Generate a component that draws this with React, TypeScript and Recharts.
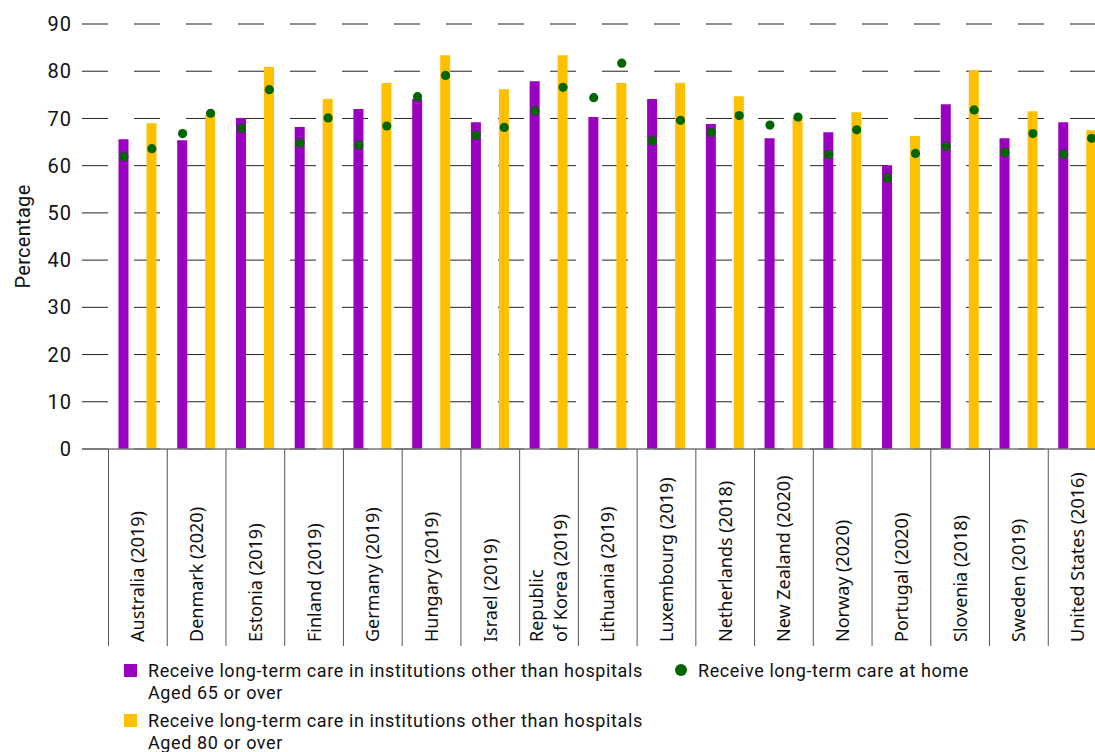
import React from 'react';
import {
  ComposedChart,
  Bar,
  Scatter,
  XAxis,
  YAxis,
  CartesianGrid,
} from 'recharts';

// categories (newline = second line of the label)
const countries = [
  'Australia (2019)',
  'Denmark (2020)',
  'Estonia (2019)',
  'Finland (2019)',
  'Germany (2019)',
  'Hungary (2019)',
  'Israel (2019)',
  'Republic\nof Korea (2019)',
  'Lithuania (2019)',
  'Luxembourg (2019)',
  'Netherlands (2018)',
  'New Zealand (2020)',
  'Norway (2020)',
  'Portugal (2020)',
  'Slovenia (2018)',
  'Sweden (2019)',
  'United States (2016)',
];

// institutions other than hospitals
const inst65 = [65.6, 65.4, 70.1, 68.2, 72.0, 74.1, 69.2, 77.9, 70.3, 74.1, 68.8, 65.8, 67.1, 60.1, 73.0, 65.8, 69.2];
const inst80 = [69.0, 70.8, 80.9, 74.1, 77.5, 83.4, 76.2, 83.4, 77.5, 77.5, 74.7, 70.2, 71.3, 66.3, 80.2, 71.5, 67.5];

// at home
const home65 = [61.9, 66.8, 67.9, 64.8, 64.4, 74.6, 66.4, 71.6, 74.4, 65.3, 67.0, 68.6, 62.4, 57.4, 64.1, 62.8, 62.4];
const home80 = [63.6, 71.1, 76.1, 70.1, 68.4, 79.1, 68.1, 76.6, 81.7, 69.6, 70.6, 70.3, 67.6, 62.6, 71.8, 66.8, 65.8];

const yTicks = [0, 10, 20, 30, 40, 50, 60, 70, 80, 90];

const PURPLE = '#9900bf';
const YELLOW = '#ffc000';
const GREEN = '#006600';
const SANS = 'Roboto, "Noto Sans", sans-serif';

const BAR_SIZE = 10;
const BAR_GAP = 18;
const DOT_SHIFT = (BAR_SIZE + BAR_GAP) / 2;

const data = countries.map((c, i) => ({
  country: c,
  inst65: inst65[i],
  inst80: inst80[i],
  home65: home65[i],
  home80: home80[i],
}));

// label rotated + separator line on the left edge of each band
const CountryTick = (props: any) => {
  const { x, y, payload } = props;
  const half = payload && payload.offset ? payload.offset : 29.4;
  const lines = String(payload.value).split('\n');
  const lh = 24;
  const start = -((lines.length - 1) * lh) / 2;
  return (
    <g>
      <line x1={x - half} x2={x - half} y1={y} y2={y + 197} stroke="#555" strokeWidth={1} />
      <g transform={`translate(${x},${y + 193})`}>
        <text
          transform="rotate(-90)"
          textAnchor="start"
          fontFamily='"Noto Sans", "Open Sans", sans-serif'
          fontSize={18}
          fill="#111"
        >
          {lines.map((l, i) => (
            <tspan key={i} x={0} y={start + i * lh} dy="0.36em">
              {l}
            </tspan>
          ))}
        </text>
      </g>
    </g>
  );
};

const dotShape = (shift: number) => (p: any) => (
  <circle cx={p.cx + shift} cy={p.cy} r={4.6} fill={GREEN} />
);

const YLabel = (props: any) => {
  const vb = props.viewBox || { x: 0, y: 24, width: 82, height: 425 };
  return (
    <text
      transform={`translate(${vb.x + 23},${vb.y + vb.height / 2}) rotate(-90)`}
      textAnchor="middle"
      dominantBaseline="central"
      fontFamily={SANS}
      fontSize={20}
      letterSpacing={0.3}
      fill="#111"
    >
      Percentage
    </text>
  );
};

const legendText: React.CSSProperties = {
  fontFamily: SANS,
  fontSize: 18,
  letterSpacing: 0.6,
  lineHeight: '22px',
  color: '#111',
};

export default function App() {
  return (
    <div
      style={{
        position: 'fixed',
        left: 0,
        top: 0,
        width: 1095,
        height: 752,
        overflow: 'hidden',
        background: '#fff',
      }}
    >
      <ComposedChart
        width={1112}
        height={649}
        data={data}
        margin={{ top: 24, right: 5, left: 0, bottom: 0 }}
        barGap={BAR_GAP}
      >
        <CartesianGrid vertical={false} stroke="#222" strokeDasharray="26 26" />
        <XAxis
          dataKey="country"
          interval={0}
          height={200}
          padding={{ left: 26.5, right: 0 }}
          tickLine={false}
          tickSize={0}
          tickMargin={0}
          axisLine={{ stroke: '#777', strokeWidth: 1.5 }}
          tick={<CountryTick />}
        />
        <YAxis
          width={82}
          domain={[0, 90]}
          ticks={yTicks}
          axisLine={false}
          tickLine={false}
          tickMargin={4}
          tick={{ fontSize: 20, fill: '#111', fontFamily: SANS, letterSpacing: 1 }}
          label={<YLabel />}
        />
        <Bar dataKey="inst65" fill={PURPLE} barSize={BAR_SIZE} isAnimationActive={false} />
        <Bar dataKey="inst80" fill={YELLOW} barSize={BAR_SIZE} isAnimationActive={false} />
        <Scatter dataKey="home65" shape={dotShape(-DOT_SHIFT)} isAnimationActive={false} />
        <Scatter dataKey="home80" shape={dotShape(DOT_SHIFT)} isAnimationActive={false} />
      </ComposedChart>

      <div style={{ position: 'absolute', left: 124, top: 660 }}>
        <div style={{ display: 'flex', alignItems: 'flex-start' }}>
          <span style={{ width: 13, height: 13, background: PURPLE, marginTop: 4, marginRight: 11 }} />
          <div style={legendText}>
            Receive long-term care in institutions other than hospitals
            <br />
            Aged 65 or over
          </div>
        </div>
        <div style={{ display: 'flex', alignItems: 'flex-start', marginTop: 6 }}>
          <span style={{ width: 13, height: 13, background: YELLOW, marginTop: 4, marginRight: 11 }} />
          <div style={legendText}>
            Receive long-term care in institutions other than hospitals
            <br />
            Aged 80 or over
          </div>
        </div>
      </div>
      <div style={{ position: 'absolute', left: 675, top: 660, display: 'flex', alignItems: 'flex-start' }}>
        <span
          style={{ width: 12, height: 12, borderRadius: 6, background: GREEN, marginTop: 4, marginRight: 11 }}
        />
        <div style={legendText}>Receive long-term care at home</div>
      </div>
    </div>
  );
}
